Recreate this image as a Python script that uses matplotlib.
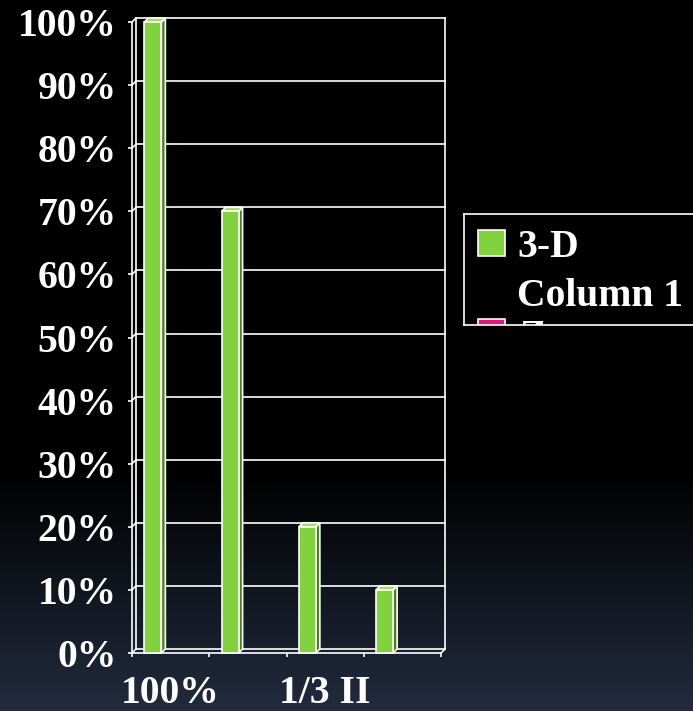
import numpy as np
import matplotlib
matplotlib.use("Agg")
import matplotlib.pyplot as plt
from matplotlib.patches import Rectangle, Polygon

# ---- data ----
categories = ["100%", "", "1/3 II", ""]
series1_name = "3-D\nColumn 1"
series1_values = [1.00, 0.70, 0.20, 0.10]
series2_name = "Z"
series2_values = [0, 0, 0, 0]
ytick_values = [i / 10 for i in range(11)]
ytick_labels = [f"{i*10}%" for i in range(11)]

W, H = 693, 711
DPI = 100
fig = plt.figure(figsize=(W / DPI, H / DPI), dpi=DPI)
fig.patch.set_facecolor("black")

def fbox(left, top, right, bottom):
    return [left / W, 1 - bottom / H, (right - left) / W, (bottom - top) / H]

# ---- background gradient ----
bg = fig.add_axes([0, 0, 1, 1], zorder=-10)
rows = np.arange(H)
t = np.clip((rows - 470) / (H - 470), 0, 1)
top_c = np.array([0, 0, 0])
bot_c = np.array([34, 43, 62]) / 255
grad = (top_c[None, :] * (1 - t[:, None]) + bot_c[None, :] * t[:, None])
img = np.repeat(grad[:, None, :], 4, axis=1)
bg.imshow(img, aspect="auto", extent=[0, 1, 0, 1], origin="upper")
bg.set_axis_off()

FONT = dict(family="Liberation Serif", weight="bold", color="white")
FS = 28.5
LW = 1.2

# ---- main axes (front plane) ----
left_px, right_px, top_px, bottom_px = 132, 441, 22, 653
ax = fig.add_axes(fbox(left_px, top_px, right_px, bottom_px))
ax.set_facecolor("none")
n = len(categories)
ax.set_xlim(0, n)
ax.set_ylim(0, 1)

# depth offset in data units (4 px right, 4 px up)
ddx = 4 * n / (right_px - left_px)
ddy = 4 / (bottom_px - top_px)

for s in ["top", "right"]:
    ax.spines[s].set_visible(False)
for s in ["left", "bottom"]:
    ax.spines[s].set_color("white")
    ax.spines[s].set_linewidth(LW)

ax.set_yticks(ytick_values)
ax.set_yticklabels(ytick_labels, fontsize=FS, **FONT)
ax.set_xticks(np.arange(n + 1))
ax.set_xticklabels([""] * (n + 1))
ax.set_xticks(np.arange(n) + 0.5, minor=True)
ax.set_xticklabels(categories, minor=True, fontsize=FS, **FONT)
ax.tick_params(axis="y", colors="white", length=3, width=LW, pad=8)
ax.tick_params(axis="x", which="major", colors="white", length=3, width=LW)
ax.tick_params(axis="x", which="minor", length=0, pad=16)

line_kw = dict(color="white", lw=LW, clip_on=False, zorder=1)
# back wall gridlines and left wall diagonals
for v in ytick_values:
    ax.plot([ddx, n + ddx], [v + ddy, v + ddy], **line_kw)
    ax.plot([0, ddx], [v, v + ddy], **line_kw)
# back-left edge, right wall edge
ax.plot([ddx, ddx], [ddy, 1 + ddy], **line_kw)
ax.plot([n + ddx, n + ddx], [ddy, 1 + ddy], **line_kw)
# floor
ax.plot([n, n + ddx], [0, ddy], **line_kw)

# ---- 3-D bars ----
bar_w = 0.22
bar_off = 0.16
face = "#82d13e"
side = "#4e7d22"
topc = "#9fe05f"
for i, v in enumerate(series1_values):
    x0 = i + bar_off
    x1 = x0 + bar_w
    ax.add_patch(Polygon([(x1, 0), (x1 + ddx, ddy), (x1 + ddx, v + ddy), (x1, v)],
                         closed=True, facecolor=side, edgecolor="white", lw=LW, zorder=3, clip_on=False))
    ax.add_patch(Polygon([(x0, v), (x0 + ddx, v + ddy), (x1 + ddx, v + ddy), (x1, v)],
                         closed=True, facecolor=topc, edgecolor="white", lw=LW, zorder=3, clip_on=False))
ax.bar(np.arange(n) + bar_off, series1_values, width=bar_w, align="edge",
       color=face, edgecolor="white", linewidth=LW, zorder=4, clip_on=False)

# ---- legend (clipped at figure edge / box) ----
lax = fig.add_axes(fbox(464, 214, 720, 325))
lax.set_xlim(0, 256)
lax.set_ylim(111, 0)
lax.set_facecolor("black")
lax.set_xticks([])
lax.set_yticks([])
for s in lax.spines.values():
    s.set_color("white")
    s.set_linewidth(LW)
lax.add_patch(Rectangle((14, 16), 27, 26, facecolor=face, edgecolor="white", lw=LW))
lax.add_patch(Rectangle((14, 105), 27, 26, facecolor="#e0197a", edgecolor="white", lw=LW))
l1, l2 = series1_name.split("\n")
lax.text(53, 43, l1, fontsize=FS, va="baseline", ha="left", clip_on=True, **FONT)
lax.text(53, 92, l2, fontsize=FS, va="baseline", ha="left", clip_on=True, **FONT)
lax.text(55, 133, series2_name, fontsize=FS, va="baseline", ha="left", clip_on=True, **FONT)

fig.savefig("out.png", dpi=DPI, facecolor=fig.get_facecolor())
